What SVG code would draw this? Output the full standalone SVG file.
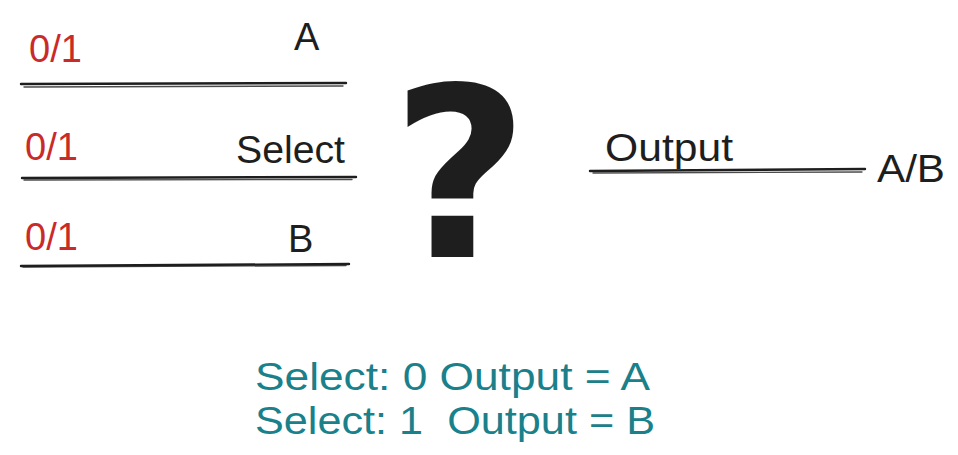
<svg xmlns="http://www.w3.org/2000/svg" width="958" height="455" viewBox="0 0 958 455">
<style>
.t{font-family:"Liberation Sans","Noto Sans",sans-serif;font-size:38px;white-space:pre}
.red{fill:#c92a2a}
.blk{fill:#1e1e1e}
.teal{fill:#1a808a}
.w{stroke:#1e1e1e;stroke-width:2.4;stroke-linecap:round;fill:none}
.w2{stroke:#1e1e1e;stroke-width:1.4;stroke-linecap:round;fill:none;opacity:.8}
</style>
<rect width="958" height="455" fill="#ffffff"/>
<g id="connectors">
<path class="w" d="M21 84 L346 83"/><path class="w2" d="M24 87 L343 86"/>
<path class="w" d="M22 178 L356 177"/><path class="w2" d="M24 180 L352 179.5"/>
<path class="w" d="M21 266 L349 264"/><path class="w2" d="M23 267 L346 265.5"/>
<path class="w" d="M590 171 L865 169"/><path class="w2" d="M593 173 L862 172"/>
</g>
<g id="input-a">
<text class="t red" x="29" y="62">0/1</text>
<text class="t blk" x="294" y="50">A</text>
</g>
<g id="input-select">
<text class="t red" x="25" y="160">0/1</text>
<text class="t blk" x="236" y="163" textLength="109" lengthAdjust="spacingAndGlyphs">Select</text>
</g>
<g id="input-b">
<text class="t red" x="25" y="250">0/1</text>
<text class="t blk" x="288" y="252">B</text>
</g>
<g id="mux">
<text x="460" y="257" text-anchor="middle" style="font-family:'DejaVu Sans',sans-serif;font-weight:bold;font-size:237px" class="blk">?</text>
</g>
<g id="output">
<text class="t blk" x="605" y="161" textLength="128" lengthAdjust="spacingAndGlyphs">Output</text>
<text class="t blk" x="877" y="182" textLength="68" lengthAdjust="spacingAndGlyphs">A/B</text>
</g>
<g id="truth">
<text class="t teal" x="255" y="390" textLength="395" lengthAdjust="spacingAndGlyphs">Select: 0 Output = A</text>
<text class="t teal" x="255" y="434" textLength="400" lengthAdjust="spacingAndGlyphs" xml:space="preserve">Select: 1  Output = B</text>
</g>
</svg>
